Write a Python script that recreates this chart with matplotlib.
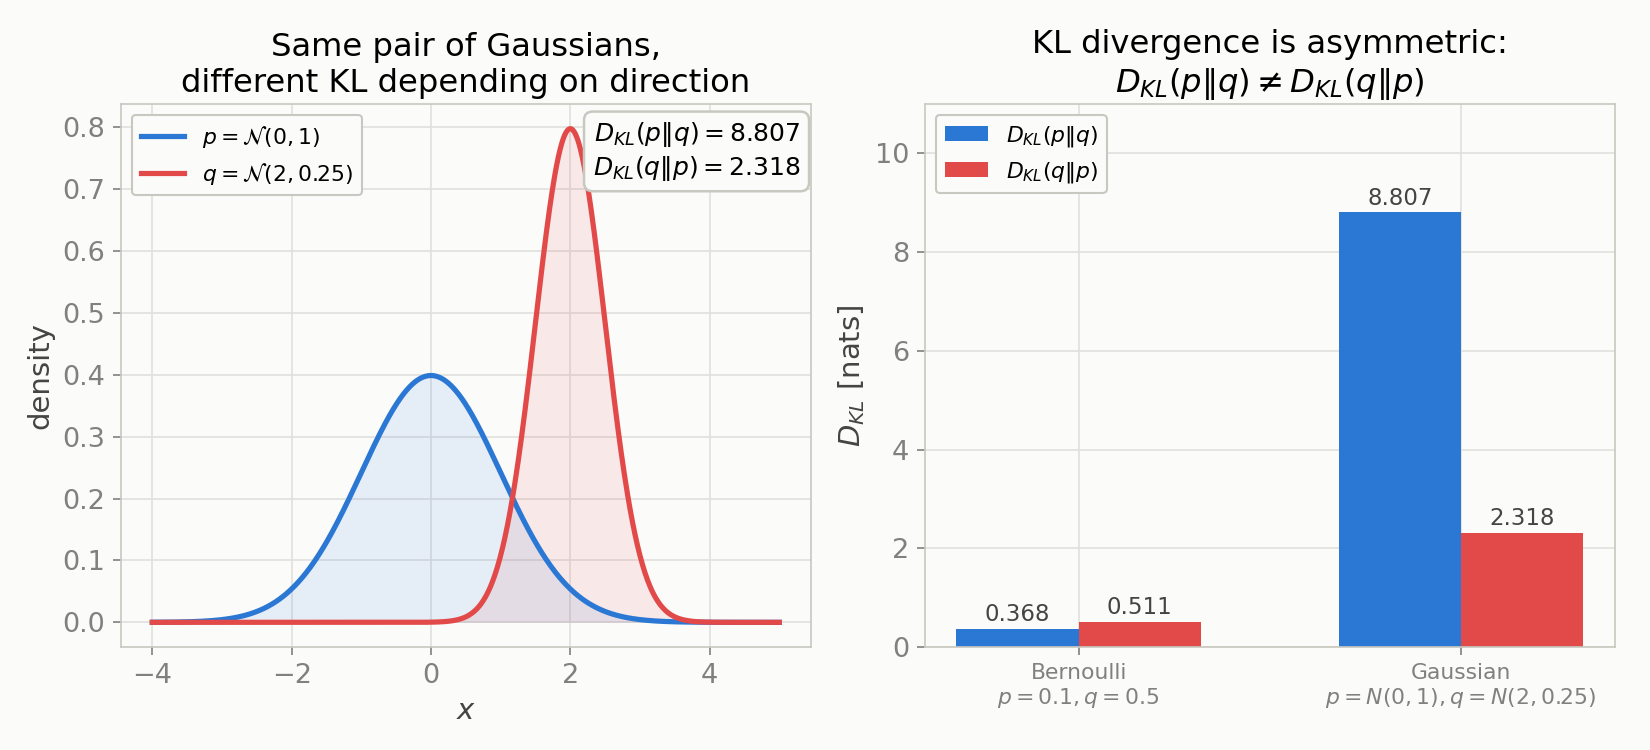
import numpy as np
import matplotlib
matplotlib.use("Agg")
import matplotlib.pyplot as plt

# Distribution parameters (mean, variance)
p_mean, p_var = 0.0, 1.0
q_mean, q_var = 2.0, 0.25
x_range = [-4.0, 5.0]

# KL values
groups = ["Bernoulli\n$p=0.1, q=0.5$", "Gaussian\n$p=N(0,1), q=N(2,0.25)$"]
kl_pq = [0.368, 8.807]
kl_qp = [0.511, 2.318]

BLUE = "#2a77d4"
RED = "#e24a4a"
BG = "#fbfbfa"
TICK = "#808080"
SPINE = "#c8c8c0"
GRID = "#e0e0dc"

plt.rcParams.update({
    "font.family": ["DejaVu Sans"],
    "axes.edgecolor": SPINE,
    "xtick.color": TICK,
    "ytick.color": TICK,
    "axes.labelcolor": "#444444",
})

fig = plt.figure(figsize=(11, 5), dpi=150, facecolor=BG)
ax1 = fig.add_axes([0.0733, 0.1373, 0.418, 0.724], facecolor=BG)
ax2 = fig.add_axes([0.5606, 0.1373, 0.418, 0.724], facecolor=BG)

def pdf(x, m, v):
    return np.exp(-(x - m) ** 2 / (2 * v)) / np.sqrt(2 * np.pi * v)

x = np.linspace(x_range[0], x_range[1], 1000)
yp = pdf(x, p_mean, p_var)
yq = pdf(x, q_mean, q_var)

ax1.fill_between(x, yp, color=BLUE, alpha=0.1, lw=0)
ax1.fill_between(x, yq, color=RED, alpha=0.1, lw=0)
ax1.plot(x, yp, color=BLUE, lw=2.5, label=r"$p=\mathcal{N}(0,1)$")
ax1.plot(x, yq, color=RED, lw=2.5, label=r"$q=\mathcal{N}(2,0.25)$")
ax1.grid(True, color=GRID, lw=0.8)
ax1.set_axisbelow(True)
ax1.tick_params(labelsize=13, length=4, color=TICK)
ax1.set_xticks([-4, -2, 0, 2, 4])
ax1.set_xlabel("$x$", fontsize=14)
ax1.set_ylabel("density", fontsize=14)
ax1.set_title("Same pair of Gaussians,\ndifferent KL depending on direction", fontsize=15.5)
ax1.legend(loc="upper left", fontsize=10.5, framealpha=1, facecolor=BG, edgecolor=SPINE)
ax1.text(0.985, 0.97,
         "$D_{KL}(p\\|q) = %.3f$\n$D_{KL}(q\\|p) = %.3f$" % (kl_pq[1], kl_qp[1]),
         transform=ax1.transAxes, ha="right", va="top", fontsize=12,
         bbox=dict(boxstyle="round,pad=0.35", fc=BG, ec=SPINE, lw=1.2))
for s in ax1.spines.values():
    s.set_color(SPINE)

idx = np.arange(len(groups))
w = 0.32
b1 = ax2.bar(idx - w / 2, kl_pq, w, color=BLUE, label=r"$D_{KL}(p\|q)$")
b2 = ax2.bar(idx + w / 2, kl_qp, w, color=RED, label=r"$D_{KL}(q\|p)$")
for bars, vals in ((b1, kl_pq), (b2, kl_qp)):
    for r, v in zip(bars, vals):
        ax2.text(r.get_x() + r.get_width() / 2, v + 0.05, "%.3f" % v,
                 ha="center", va="bottom", fontsize=11, color="#444444")
ax2.set_ylim(0, 11)
ax2.set_xticks(idx)
ax2.set_xticklabels(groups, fontsize=10.5)
ax2.tick_params(axis="y", labelsize=13, length=4, color=TICK)
ax2.tick_params(axis="x", length=4, color=TICK)
ax2.grid(True, color=GRID, lw=0.8)
ax2.set_axisbelow(True)
ax2.set_ylabel("$D_{KL}$ [nats]", fontsize=14)
ax2.set_title("KL divergence is asymmetric:\n$D_{KL}(p\\|q) \\neq D_{KL}(q\\|p)$", fontsize=15.5)
ax2.legend(loc="upper left", fontsize=10.5, framealpha=1, facecolor=BG, edgecolor=SPINE)
for s in ax2.spines.values():
    s.set_color(SPINE)

fig.savefig("out.png", dpi=150, facecolor=BG)
